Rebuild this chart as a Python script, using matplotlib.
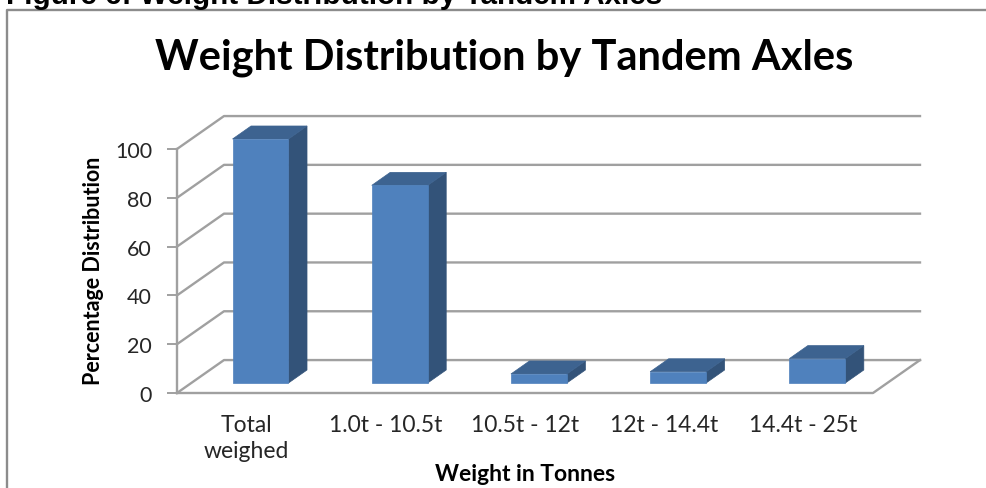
"""
Weight distribution by tandem axles, drawn as a fake 3D column chart
"""

import matplotlib
matplotlib.use('Agg')
import matplotlib.pyplot as plt
from matplotlib.patches import Polygon, Rectangle

categories = ['Total\nweighed', '1.0t - 10.5t', '10.5t - 12t', '12t - 14.4t', '14.4t - 25t']
values = [100, 81, 3.7, 4.6, 10]
y_ticks = [0, 20, 40, 60, 80, 100]

W, H = 987, 489
fig = plt.figure(figsize=(W / 100, H / 100), dpi=100)
fig.patch.set_facecolor('white')

# Axes sits on the front plane of the 3D box
ax = fig.add_axes([177 / W, 1 - 394 / H, 696 / W, 244 / H])
ax.set_xlim(0, 5)
ax.set_ylim(0, 100)
ax.patch.set_alpha(0)

# Depth of the box and of the columns, in data units
DX, DY = 0.3376, 13.5
BAR_W = 0.402
BAR_DX, BAR_DY = 0.133, 5.33
FRONT_DX, FRONT_DY = 0.1, 4.1

GRID = '#a0a0a0'
COLOR_FRONT = '#4f81bd'
COLOR_TOP = '#3d6390'
COLOR_SIDE = '#335379'

# Gridlines on the back wall and the side wall
for t in y_ticks:
    ax.plot([0, DX, 5 + DX], [t, t + DY, t + DY], color=GRID, lw=1.7, clip_on=False, zorder=1)
ax.plot([0, 0], [0, 100], color=GRID, lw=1.7, clip_on=False, zorder=1)
ax.plot([0, 5, 5 + DX], [0, 0, DY], color=GRID, lw=1.7, clip_on=False, zorder=1)

# Columns
for i, v in enumerate(values):
    x0 = i + 0.5 - BAR_W / 2 + FRONT_DX
    x1 = x0 + BAR_W
    y0 = FRONT_DY
    y1 = v + FRONT_DY
    ax.add_patch(Polygon([(x1, y0), (x1 + BAR_DX, y0 + BAR_DY), (x1 + BAR_DX, y1 + BAR_DY), (x1, y1)],
                         facecolor=COLOR_SIDE, edgecolor=COLOR_SIDE, lw=0.5, clip_on=False, zorder=3))
    ax.add_patch(Polygon([(x0, y1), (x1, y1), (x1 + BAR_DX, y1 + BAR_DY), (x0 + BAR_DX, y1 + BAR_DY)],
                         facecolor=COLOR_TOP, edgecolor=COLOR_TOP, lw=0.5, clip_on=False, zorder=3))
    ax.add_patch(Rectangle((x0, y0), BAR_W, v, facecolor=COLOR_FRONT, edgecolor=COLOR_FRONT, lw=0.5,
                           clip_on=False, zorder=4))

for s in ax.spines.values():
    s.set_visible(False)

ax.set_yticks(y_ticks)
ax.tick_params(axis='y', length=7, width=1.4, color=GRID, pad=11, labelsize=15.5, labelcolor='#262626')
ax.set_yticklabels([str(t) for t in y_ticks], family='Lato')
ax.set_xticks([i + 0.5 for i in range(5)])
ax.set_xticklabels(categories, family='Lato', fontsize=16.5, color='#262626', linespacing=1.3, va='top')
ax.tick_params(axis='x', length=0, pad=15)

# Text in figure pixels
def ptext(x, y, s, **kw):
    fig.text(x / W, 1 - y / H, s, **kw)

ptext(504, 58, 'Weight Distribution by Tandem Axles', ha='center', va='center',
      family='Lato', fontweight='bold', fontsize=30, color='black')
ptext(94, 271, 'Percentage Distribution', ha='center', va='center', rotation=90,
      family='Lato', fontweight='bold', fontsize=15.5, color='black')
ptext(525, 475, 'Weight in Tonnes', ha='center', va='center',
      family='Lato', fontweight='bold', fontsize=16.5, color='black')
ptext(6, 4.5, 'Figure 6: Weight Distribution by Tandem Axles', ha='left', va='baseline',
      family='Liberation Sans', fontweight='bold', fontsize=21.3, color='black')

# Outer chart frame, only top and left edges are in the crop
fig.add_artist(plt.Line2D([7.5 / W, 7.5 / W, 1], [0, 1 - 10.5 / H, 1 - 10.5 / H],
                          transform=fig.transFigure, color='#8c8c8c', lw=1.7))

fig.savefig('out.png', dpi=100, facecolor='white')
